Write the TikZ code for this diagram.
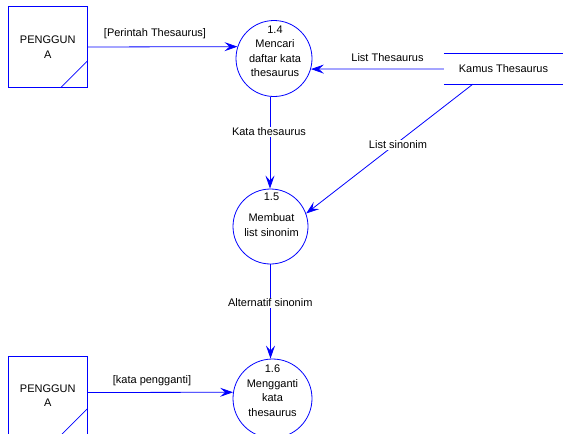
\documentclass[tikz,border=0pt]{standalone}
\usepackage{fontspec}
\setmainfont{Liberation Sans}
\usetikzlibrary{
    arrows.meta,
    positioning,
    calc
}
\definecolor{Dblue}{RGB}{0, 0, 255}
\newcommand{\dfdfont}{\fontsize{11}{14.5}\selectfont}
\tikzset{
    entity/.style={
        rectangle, draw=Dblue, line width=0.8pt, minimum width=79pt,
        minimum height=80.6pt, align=center, font=\dfdfont, inner sep=0pt
    },
    proc/.style={circle, draw=Dblue, line width=0.8pt, inner sep=0pt},
    ptext/.style={align=center, font=\dfdfont, inner sep=0pt},
    store/.style={
        rectangle, minimum width=119pt, minimum height=30pt,
        font=\dfdfont, inner sep=0pt
    },
    edge/.style={Dblue, line width=0.8pt},
    flow/.style={-{Stealth[length=13pt, width=9pt, inset=5pt]}, line width=0.8pt, Dblue},
    lbl/.style={font=\dfdfont, fill=white, inner sep=1pt},
}

\begin{document}
\begin{tikzpicture}[x=1pt, y=-1pt]
    \useasboundingbox (0,0) rectangle (563,434);
    \clip (0,0) rectangle (563,434);

    % ── entitas luar ─────────────────────────────────
    \node [entity] (pa) at (47.8,47) {PENGGUN\\A};
    \draw [edge] ([xshift=-27pt]pa.south east) -- ([yshift=27pt]pa.south east);

    \node [entity, minimum height=79pt] (pb) at (47.8,395.5) {PENGGUN\\A};
    \draw [edge] ([xshift=-27pt]pb.south east) -- ([yshift=27pt]pb.south east);

    % ── proses ───────────────────────────────────────
    \node [proc, minimum size=76pt] (p14) at (274,58.5) {};
    \node [ptext] (t14) at (275,51.2) {1.4\\Mencari\\daftar kata\\thesaurus};

    \node [proc, minimum size=75pt] (p15) at (270.5,226.5) {};
    \node [ptext] (t15) at (271.5,214.7) {1.5\\[7pt]Membuat\\list sinonim};

    \node [proc, minimum size=79pt] (p16) at (272.5,398.5) {};
    \node [ptext] (t16) at (272.5,390.5) {1.6\\Mengganti\\kata\\thesaurus};

    % ── data store ───────────────────────────────────
    \node [store] (kamus) at (503.5,69) {Kamus Thesaurus};
    \draw [edge] (kamus.north west) -- (kamus.north east);
    \draw [edge] (kamus.south west) -- (kamus.south east);
    \coordinate (kamusOut) at ([xshift=29pt]kamus.south west);

    % ── aliran data ──────────────────────────────────
    \draw [flow] (pa.east) -- (p14.162);
    \draw [flow] (kamus.west) -- (p14.-16);
    \draw [flow] (p14.-96) -- (p14.-96 |- p15.north);
    \draw [flow] (kamusOut) -- (p15.20);
    \draw [flow] (p15.south) -- (p15.south |- p16.north);
    \draw [flow] ([yshift=3pt]pb.east) -- (p16.171);

    % ── label aliran ─────────────────────────────────
    \node [lbl] (lPerintah) at (155,34) {[Perintah Thesaurus]};
    \node [lbl] (lList) at (387.5,57.5) {List Thesaurus};
    \node [lbl] (lKata) at (269,132) {Kata thesaurus};
    \node [lbl] (lSinonim) at (398,145) {List sinonim};
    \node [lbl] (lAlt) at (270.3,303) {Alternatif sinonim};
    \node [lbl] (lGanti) at (152,380.5) {[kata pengganti]};

\end{tikzpicture}
\end{document}
